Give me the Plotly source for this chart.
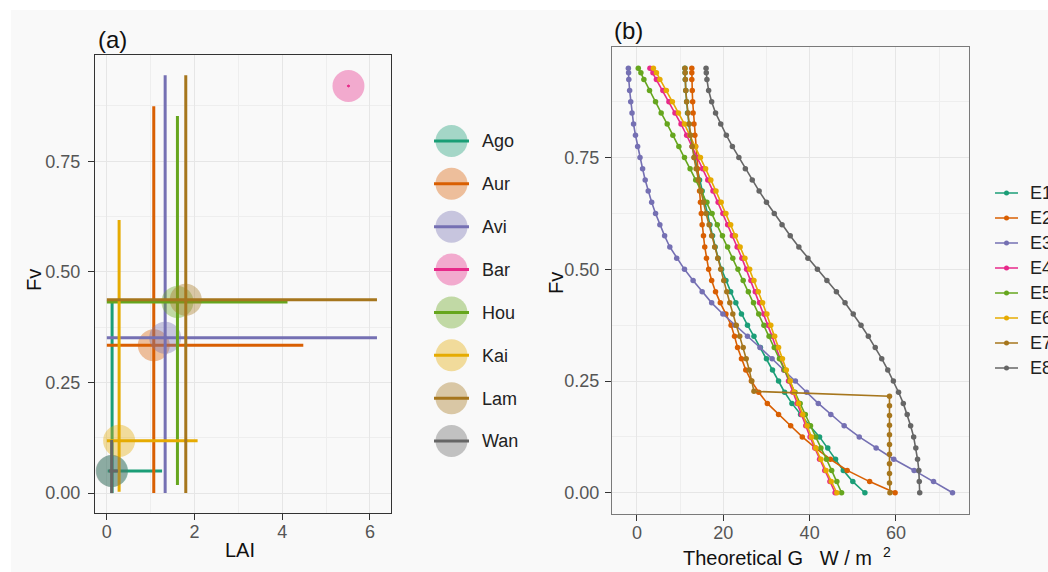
import plotly.graph_objects as go

W, H = 1048, 572
def px(x): return x / W
def py(y): return 1 - y / H

# ---------------- Panel (a) data ----------------
sites = ["Ago", "Aur", "Avi", "Bar", "Hou", "Kai", "Lam", "Wan"]
site_colors = ["#1B9E77", "#D95F02", "#7570B3", "#E7298A", "#66A61E", "#E6AB02", "#A6761D", "#666666"]
lai_mean = [0.12, 1.07, 1.33, 5.51, 1.61, 0.28, 1.80, 0.11]
fv_mean = [0.050, 0.334, 0.351, 0.920, 0.432, 0.118, 0.437, 0.050]
lai_min = [0.02, 0.00, 0.00, 5.50, 0.00, 0.00, 0.00, 0.05]
lai_max = [1.26, 4.48, 6.16, 5.52, 4.12, 2.07, 6.16, 0.25]
fv_min = [0.000, 0.000, 0.000, 0.918, 0.018, 0.003, 0.000, 0.000]
fv_max = [0.435, 0.874, 0.944, 0.922, 0.852, 0.617, 0.944, 0.120]

# ---------------- Panel (b) data ----------------
series_b = ["E1", "E2", "E3", "E4", "E5", "E6", "E7", "E8"]
fv_levels = [0.000, 0.025, 0.050, 0.075, 0.100, 0.125, 0.150, 0.175, 0.200, 0.225,
             0.250, 0.275, 0.300, 0.325, 0.350, 0.375, 0.400, 0.425, 0.450, 0.475,
             0.500, 0.525, 0.550, 0.575, 0.600, 0.625, 0.650, 0.675, 0.700, 0.725,
             0.750, 0.775, 0.800, 0.825, 0.850, 0.875, 0.900, 0.925, 0.940, 0.950]
g_e1 = [52.8, 50.0, 47.8, 46.0, 44.2, 42.3, 40.0, 37.9, 35.9, 34.2, 32.8, 31.4, 30.0, 28.6,
        27.1, 25.6, 24.2, 22.9, 21.7, 20.6, 19.6, 18.8, 18.1, 17.5, 16.9, 16.3, 15.7, 15.1,
        14.5, 13.9, 13.3, 12.8, 12.3, 12.0, 11.7, 11.5, 11.3, 11.2, 11.15, 11.1]
g_e2 = [59.8, 53.9, 48.7, 44.8, 41.4, 38.3, 35.6, 32.8, 30.2, 28.2, 26.5, 25.2, 24.2, 23.3,
        22.6, 21.8, 20.6, 19.3, 18.2, 17.3, 16.6, 16.1, 15.7, 15.4, 15.1, 14.9, 14.7, 14.5,
        14.2, 14.0, 13.8, 13.6, 13.4, 13.2, 13.0, 12.9, 12.8, 12.7, 12.7, 12.7]
g_e3 = [73.1, 68.7, 64.2, 59.5, 55.4, 51.5, 48.0, 44.9, 42.0, 39.3, 36.7, 34.0, 31.3, 28.5,
        25.6, 22.7, 19.9, 17.3, 15.1, 13.0, 11.0, 9.2, 7.6, 6.4, 5.3, 4.3, 3.4, 2.6,
        1.9, 1.3, 0.7, 0.15, -0.35, -0.8, -1.15, -1.45, -1.7, -1.9, -1.95, -2.0]
g_e4 = [45.9, 44.7, 43.5, 42.3, 41.2, 40.1, 39.1, 38.1, 37.1, 36.1, 35.1, 34.1, 33.2, 32.2,
        31.3, 30.3, 29.4, 28.4, 27.4, 26.4, 25.4, 24.3, 23.2, 22.1, 21.0, 19.9, 18.8, 17.6,
        16.4, 15.2, 14.0, 12.8, 11.5, 10.2, 8.8, 7.4, 6.0, 4.5, 3.7, 3.0]
g_e5 = [47.4, 46.3, 45.1, 43.9, 42.6, 41.4, 40.2, 39.0, 37.8, 36.6, 35.4, 34.2, 33.0, 31.8,
        30.6, 29.4, 28.2, 27.0, 25.8, 24.6, 23.4, 22.2, 21.0, 19.8, 18.6, 17.4, 16.2, 14.9,
        13.6, 12.3, 11.0, 9.7, 8.3, 7.0, 5.6, 4.3, 2.9, 1.6, 0.9, 0.3]
g_e6 = [46.3, 45.0, 43.8, 42.6, 41.4, 40.4, 39.4, 38.4, 37.4, 36.4, 35.5, 34.6, 33.7, 32.8,
        31.9, 31.0, 30.1, 29.1, 28.1, 27.1, 26.1, 25.0, 23.9, 22.8, 21.7, 20.6, 19.5, 18.3,
        17.1, 15.9, 14.7, 13.5, 12.3, 11.0, 9.6, 8.2, 6.8, 5.3, 4.5, 3.8]
g_e8 = [65.5, 65.4, 65.3, 65.0, 64.6, 64.1, 63.4, 62.6, 61.7, 60.6, 59.4, 58.1, 56.7, 55.2,
        53.6, 51.9, 50.1, 48.2, 46.2, 44.0, 41.8, 39.6, 37.5, 35.5, 33.6, 31.8, 30.0, 28.3,
        26.7, 25.1, 23.6, 22.1, 20.7, 19.4, 18.2, 17.3, 16.6, 16.2, 16.05, 16.0]
fv_e7 = [0.000, 0.022, 0.043, 0.065, 0.086, 0.108, 0.130, 0.151, 0.173, 0.195, 0.216,
         0.227, 0.250, 0.275, 0.300, 0.325, 0.350, 0.375, 0.400, 0.425, 0.450, 0.475,
         0.500, 0.525, 0.550, 0.575, 0.600, 0.625, 0.650, 0.675, 0.700, 0.725, 0.750,
         0.775, 0.800, 0.825, 0.850, 0.875, 0.900, 0.925, 0.940, 0.950]
g_e7 = [58.6, 58.5, 58.5, 58.5, 58.5, 58.5, 58.5, 58.5, 58.5, 58.5, 58.5,
        27.1, 26.6, 26.0, 25.3, 24.6, 23.8, 23.0, 22.2, 21.5, 20.8, 20.1,
        19.4, 18.7, 18.0, 17.3, 16.7, 16.0, 15.4, 14.8, 14.2, 13.7, 13.2,
        12.8, 12.4, 12.1, 11.8, 11.5, 11.3, 11.2, 11.15, 11.1]
series_colors = ["#1B9E77", "#D95F02", "#7570B3", "#E7298A", "#66A61E", "#E6AB02", "#A6761D", "#666666"]
b_x = [g_e1, g_e2, g_e3, g_e4, g_e5, g_e6, g_e7, g_e8]
b_y = [fv_levels, fv_levels, fv_levels, fv_levels, fv_levels, fv_levels, fv_e7, fv_levels]

FONT = "Liberation Sans, Arial, sans-serif"

def rgba(hexc, a):
    h = hexc.lstrip("#")
    return "rgba(%d,%d,%d,%.2f)" % (int(h[0:2], 16), int(h[2:4], 16), int(h[4:6], 16), a)

fig = go.Figure()

# Panel (a): ranges as error bars + translucent circles
for i, s in enumerate(sites):
    c = site_colors[i]
    fig.add_trace(go.Scatter(
        x=[lai_mean[i]], y=[fv_mean[i]], mode="markers", name=s,
        marker=dict(size=32, color=rgba(c, 0.38), line=dict(width=0)),
        error_x=dict(type="data", symmetric=False, array=[lai_max[i] - lai_mean[i]],
                     arrayminus=[lai_mean[i] - lai_min[i]], color=c, thickness=3, width=0),
        error_y=dict(type="data", symmetric=False, array=[fv_max[i] - fv_mean[i]],
                     arrayminus=[fv_mean[i] - fv_min[i]], color=c, thickness=3, width=0),
        xaxis="x", yaxis="y", hoverinfo="skip"))

# Panel (a) legend key, drawn on its own small axis
for i, s in enumerate(sites):
    c = site_colors[i]
    fig.add_trace(go.Scatter(
        x=[0.5], y=[s], mode="markers",
        marker=dict(size=32, color=rgba(c, 0.38), line=dict(width=0)),
        error_x=dict(type="constant", value=0.5, color=c, thickness=3, width=0),
        xaxis="x3", yaxis="y3", hoverinfo="skip"))

# Panel (b) curves
for i, s in enumerate(series_b):
    c = series_colors[i]
    fig.add_trace(go.Scatter(
        x=b_x[i], y=b_y[i], mode="lines+markers", name=s,
        line=dict(color=c, width=1.6), marker=dict(color=c, size=5.5),
        xaxis="x2", yaxis="y2"))

# Panel (b) legend key, drawn on its own small axis (text runs off the right edge)
for i, s in enumerate(series_b):
    c = series_colors[i]
    fig.add_trace(go.Scatter(
        x=[0.5], y=[s], mode="markers",
        marker=dict(size=5, color=c),
        error_x=dict(type="constant", value=0.5, color=c, thickness=1.6, width=0),
        xaxis="x4", yaxis="y4", hoverinfo="skip"))

tickfont = dict(family=FONT, size=18, color="#555555")
common = dict(showline=True, mirror=True, ticks="outside", ticklen=6, tickwidth=1.1,
              tickcolor="#333333", showgrid=True, gridcolor="#e6e6e6", gridwidth=1.2,
              zeroline=False, tickfont=tickfont, automargin=False)

fig.update_layout(
    width=W, height=H, autosize=False, showlegend=False,
    margin=dict(l=0, r=0, t=0, b=0, autoexpand=False),
    paper_bgcolor="#ffffff", plot_bgcolor="#fafafa",
    font=dict(family=FONT, size=18, color="#222222"),
    xaxis=dict(domain=[px(95), px(391)], range=[-0.27, 6.48], anchor="y",
               tick0=0, dtick=2, linecolor="#333333", linewidth=1.3, ticklabelstandoff=-4,
               minor=dict(dtick=1, showgrid=True, gridcolor="#eeeeee", gridwidth=1), **common),
    yaxis=dict(domain=[py(513), py(55)], range=[-0.045, 0.99], anchor="x",
               tick0=0, dtick=0.25, tickformat=".2f", linecolor="#333333", linewidth=1.3,
               ticklabelstandoff=4,
               minor=dict(dtick=0.125, showgrid=True, gridcolor="#eeeeee", gridwidth=1), **common),
    xaxis2=dict(domain=[px(612), px(969)], range=[-5.79, 76.92], anchor="y2",
                tick0=0, dtick=20, linecolor="#7a7a7a", linewidth=1.3, ticklabelstandoff=-4,
                minor=dict(dtick=10, showgrid=True, gridcolor="#eeeeee", gridwidth=1), **common),
    yaxis2=dict(domain=[py(514), py(47)], range=[-0.0475, 0.9975], anchor="x2",
                tick0=0, dtick=0.25, tickformat=".2f", linecolor="#7a7a7a", linewidth=1.3,
                ticklabelstandoff=2,
                minor=dict(dtick=0.125, showgrid=True, gridcolor="#eeeeee", gridwidth=1), **common),
    xaxis3=dict(domain=[px(431), px(481)], range=[-0.086, 1.343], anchor="y3",
                visible=False, fixedrange=True),
    yaxis3=dict(domain=[py(462.5), py(119.5)], type="category", categoryorder="array",
                categoryarray=sites, range=[7.5, -0.5], anchor="x3", side="right",
                showgrid=False, showline=False, zeroline=False, ticks="",
                tickfont=dict(family=FONT, size=18, color="#222222"), automargin=False),
    xaxis4=dict(domain=[px(993), px(1029)], range=[-0.087, 1.478], anchor="y4",
                visible=False, fixedrange=True),
    yaxis4=dict(domain=[py(380.5), py(180.5)], type="category", categoryorder="array",
                categoryarray=series_b, range=[7.5, -0.5], anchor="x4", side="right",
                showgrid=False, showline=False, zeroline=False, ticks="",
                tickfont=dict(family=FONT, size=18, color="#222222"), automargin=False),
    shapes=[dict(type="rect", xref="paper", yref="paper", x0=px(11), x1=1, y0=0, y1=py(10),
                 fillcolor="#f9f9f9", line=dict(width=0), layer="below")],
    annotations=[
        dict(text="(a)", x=px(112), y=py(40), xref="paper", yref="paper", showarrow=False,
             xanchor="center", yanchor="middle",
             font=dict(family=FONT, size=24, color="#111111")),
        dict(text="(b)", x=px(628), y=py(31), xref="paper", yref="paper", showarrow=False,
             xanchor="center", yanchor="middle",
             font=dict(family=FONT, size=24, color="#111111")),
        dict(text="LAI", x=px(240), y=py(550), xref="paper", yref="paper", showarrow=False,
             xanchor="center", yanchor="middle",
             font=dict(family=FONT, size=20, color="#111111")),
        dict(text="Fv", x=px(34), y=py(280), xref="paper", yref="paper", showarrow=False,
             xanchor="center", yanchor="middle", textangle=-90,
             font=dict(family=FONT, size=20, color="#111111")),
        dict(text="Fv", x=px(556), y=py(283), xref="paper", yref="paper", showarrow=False,
             xanchor="center", yanchor="middle", textangle=-90,
             font=dict(family=FONT, size=20, color="#111111")),
        dict(text="Theoretical G&nbsp;&nbsp;&nbsp;W / m&nbsp;&nbsp;<sup>2</sup>", x=px(681), y=py(556),
             xref="paper", yref="paper", showarrow=False, xanchor="left", yanchor="middle",
             font=dict(family=FONT, size=20, color="#111111")),
    ],
)

fig.write_html("out.html")
